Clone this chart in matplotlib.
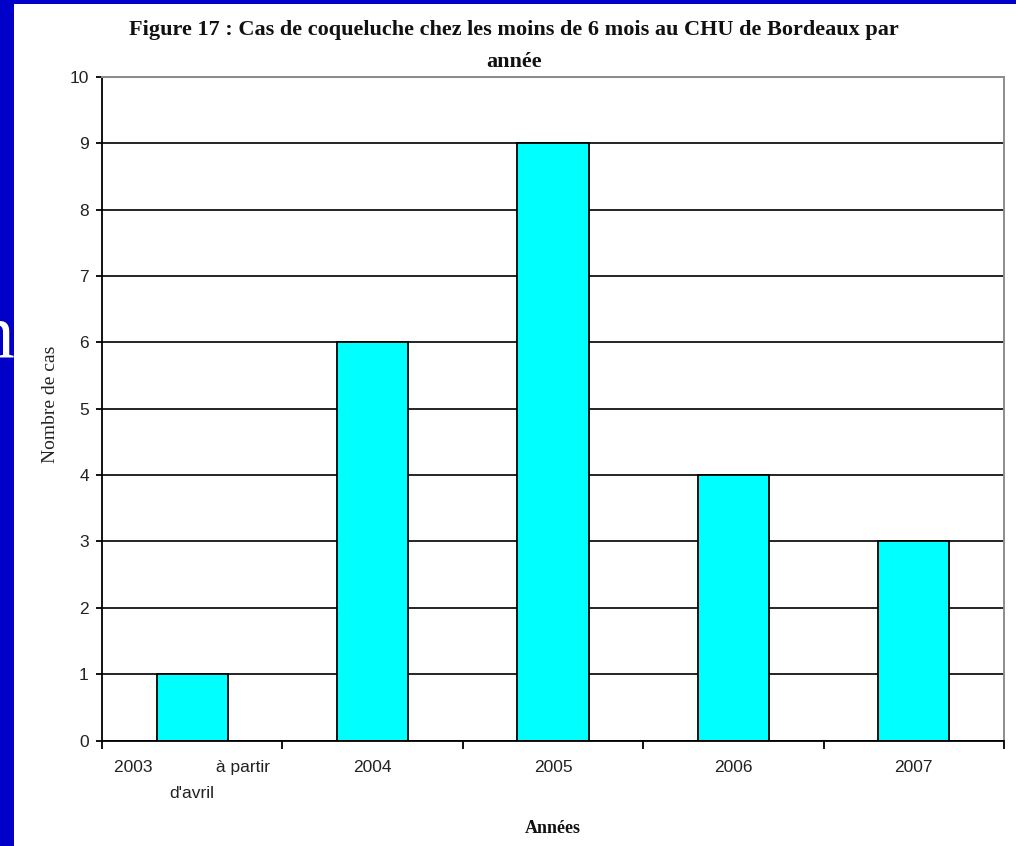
import matplotlib.pyplot as plt
from matplotlib.patches import Rectangle

categories = ["2003             à partir\nd'avril", "2004", "2005", "2006", "2007"]
cases = [1, 6, 9, 4, 3]
y_ticks = [0, 1, 2, 3, 4, 5, 6, 7, 8, 9, 10]

fig = plt.figure(figsize=(10.16, 8.46), dpi=100)
fig.patch.set_facecolor('#0000c8')

# fond blanc de l'image collée sur la diapo
fig.patches.append(Rectangle((14/1016, 0), 1 - 14/1016, 1 - 4/846,
                             transform=fig.transFigure, facecolor='white',
                             edgecolor='none', zorder=1))
# morceau de lettre de la diapo qui dépasse
fig.text(14/1016, 1 - 357/846, 'n', color='white', fontsize=56,
         family='Liberation Serif', ha='right', va='baseline', zorder=0)

ax = fig.add_axes([102/1016, 1 - 740.5/846, 902/1016, 663.5/846])
ax.set_zorder(2)

x = range(len(categories))
ax.bar(x, cases, width=0.395, color='#00ffff', edgecolor='black',
       linewidth=1.3, zorder=2)

ax.set_xlim(-0.5, len(categories) - 0.5)
ax.set_ylim(0, 10)
ax.set_yticks(y_ticks)
ax.set_xticks(list(x))
ax.set_xticklabels(categories, family='Liberation Sans', fontsize=12.5,
                   color='#222222', linespacing=1.9)
ax.set_xticks([i - 0.5 for i in range(len(categories) + 1)], minor=True)
ax.tick_params(axis='x', which='major', length=0, pad=14)
ax.tick_params(axis='x', which='minor', length=6, width=1.3, direction='out')
ax.tick_params(axis='y', length=4.5, width=1.3, pad=5, labelsize=12.5,
               labelcolor='#222222')
for lab in ax.get_yticklabels():
    lab.set_family('Liberation Sans')

ax.set_axisbelow(True)
ax.yaxis.grid(True, color='black', linewidth=1.2)

for side in ['left', 'bottom']:
    ax.spines[side].set_color('black')
    ax.spines[side].set_linewidth(1.3)
for side in ['top', 'right']:
    ax.spines[side].set_color('#8c8c8c')
    ax.spines[side].set_linewidth(1.4)

ax.set_ylabel('Nombre de cas', family='Liberation Serif', fontsize=14,
              color='#222222', va='center')
ax.yaxis.set_label_coords(-0.0576, 0.506)
ax.set_xlabel('Années', family='Liberation Serif', fontsize=13,
              fontweight='bold', color='#111111', va='center')
ax.xaxis.set_label_coords(0.5, -0.132)

fig.text(0.506, 1 - 30/846,
         'Figure 17 : Cas de coqueluche chez les moins de 6 mois au CHU de Bordeaux par',
         family='Liberation Serif', fontsize=16, fontweight='bold',
         color='#111111', ha='center', va='center', zorder=3)
fig.text(0.506, 1 - 62/846, 'année', family='Liberation Serif', fontsize=16,
         fontweight='bold', color='#111111', ha='center', va='center', zorder=3)

fig.savefig('out.png', dpi=100, facecolor=fig.get_facecolor())
